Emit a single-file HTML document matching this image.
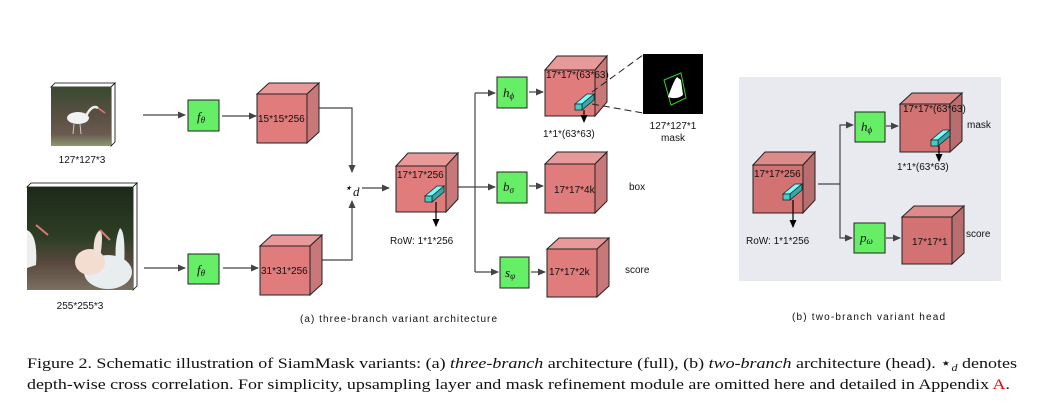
<!DOCTYPE html>
<html><head><meta charset="utf-8"><style>
html,body{margin:0;padding:0;background:#fff;}
svg{display:block;}
.s{font-family:"Liberation Sans",sans-serif;font-size:10px;fill:#111;}
.m{font-family:"Liberation Serif",serif;font-style:italic;font-size:13px;fill:#111;}
.c{font-family:"Liberation Serif",serif;font-size:15px;fill:#111;}
</style></head><body>
<svg width="1045" height="406" viewBox="0 0 1045 406" xmlns="http://www.w3.org/2000/svg">
<defs>
<marker id="a" markerWidth="8" markerHeight="8" refX="7" refY="4" orient="auto" markerUnits="userSpaceOnUse"><path d="M0,0.5 L8,4 L0,7.5 z" fill="#444"/></marker>
<marker id="ak" markerWidth="8" markerHeight="8" refX="7" refY="4" orient="auto" markerUnits="userSpaceOnUse"><path d="M0,0.5 L8,4 L0,7.5 z" fill="#000"/></marker>
<linearGradient id="p1" x1="0" y1="0" x2="0" y2="1"><stop offset="0" stop-color="#3a4a30"/><stop offset="0.5" stop-color="#5a5044"/><stop offset="0.8" stop-color="#6a5a50"/><stop offset="1" stop-color="#8a9a70"/></linearGradient>
<linearGradient id="p2" x1="0" y1="0" x2="0" y2="1"><stop offset="0" stop-color="#1c2a18"/><stop offset="0.5" stop-color="#2e3e26"/><stop offset="0.75" stop-color="#5a4a40"/><stop offset="1" stop-color="#7a7060"/></linearGradient>
</defs>
<rect x="739" y="77" width="262" height="204" fill="#e9eaef"/>

<!-- images -->
<polygon points="51,87 55,83 115,83 111,87" fill="#fff" stroke="#000" stroke-width="0.8"/>
<polygon points="111,87 115,83 115,142 111,146" fill="#fff" stroke="#000" stroke-width="0.8"/>
<rect x="51" y="87" width="60" height="59" fill="url(#p1)"/>
<ellipse cx="78" cy="118" rx="11" ry="6" fill="#f2f2f2"/><path d="M86,116 Q92,104 98,108" stroke="#eee" stroke-width="2.5" fill="none"/><path d="M98,108 L105,113" stroke="#d77" stroke-width="1.5"/><line x1="74" y1="124" x2="73" y2="134" stroke="#ccc"/><line x1="80" y1="124" x2="81" y2="134" stroke="#ccc"/>
<polygon points="27,187 31,183 137,183 133,187" fill="#fff" stroke="#000" stroke-width="0.8"/>
<polygon points="133,187 137,183 137,286 133,290" fill="#fff" stroke="#000" stroke-width="0.8"/>
<rect x="27" y="187" width="106" height="103" fill="url(#p2)"/>
<ellipse cx="108" cy="272" rx="24" ry="17" fill="#e8eef0"/><path d="M116,266 Q114,240 120,228 Q126,232 124,268 Z" fill="#e8eef0"/>
<ellipse cx="90" cy="262" rx="15" ry="13" fill="#f3dcd0"/><path d="M94,258 Q92,236 100,230 Q104,234 100,258 Z" fill="#f0e0d8"/><path d="M100,230 L110,240" stroke="#d77" stroke-width="2"/>
<path d="M27,230 Q38,235 36,265 L27,268 Z" fill="#eee"/><path d="M36,225 L48,235" stroke="#d77" stroke-width="2"/>
<text class="s" x="82" y="163" text-anchor="middle">127*127*3</text>
<text class="s" x="80" y="309" text-anchor="middle">255*255*3</text>

<g stroke="#444" stroke-width="1.2" fill="none" marker-end="url(#a)">
<line x1="143" y1="115" x2="185" y2="115"/>
<line x1="222" y1="116" x2="256" y2="116"/>
<line x1="144" y1="268" x2="185" y2="268"/>
<line x1="223" y1="268" x2="258" y2="268"/>
<polyline points="319,108 352,108 352,172"/>
<polyline points="322,260 352,260 352,201"/>
<line x1="362" y1="188" x2="389" y2="188"/>
<line x1="475" y1="93" x2="495" y2="93"/>
<line x1="475" y1="187" x2="495" y2="187"/>
<line x1="475" y1="272" x2="498" y2="272"/>
<line x1="529" y1="92" x2="543" y2="92"/>
<line x1="529" y1="186" x2="543" y2="186"/>
<line x1="531" y1="272" x2="545" y2="272"/>
<polyline points="840,184 840,125 853,125" /><polyline points="840,184 840,238 852,238"/>
<line x1="886" y1="126" x2="898" y2="126"/>
<line x1="886" y1="238" x2="900" y2="238"/>
</g>
<g stroke="#444" stroke-width="1.2" fill="none">
<line x1="457" y1="187" x2="475" y2="187"/><line x1="475" y1="93" x2="475" y2="272"/>
<line x1="818" y1="184" x2="840" y2="184"/>
</g>
<text class="m" x="344" y="192" font-size="14">⋆</text><text class="m" x="353" y="196" font-size="12">d</text>

<g fill="#66ee66" stroke="#222" stroke-width="1">
<rect x="188" y="100" width="31" height="31"/><rect x="188" y="254" width="31" height="30"/>
<rect x="497" y="77" width="30" height="31"/><rect x="497" y="172" width="30" height="31"/><rect x="500" y="257" width="29" height="31"/>
<rect x="855" y="112" width="30" height="30"/><rect x="854" y="223" width="31" height="30"/>
</g>
<text class="m" x="197" y="121" font-size="15">f<tspan font-size="9" dy="2">θ</tspan></text>
<text class="m" x="197" y="274" font-size="15">f<tspan font-size="9" dy="2">θ</tspan></text>
<text class="m" x="503" y="97" font-size="15">h<tspan font-size="9" dy="2">ϕ</tspan></text>
<text class="m" x="503" y="191" font-size="15">b<tspan font-size="9" dy="2">σ</tspan></text>
<text class="m" x="505" y="277" font-size="15">s<tspan font-size="9" dy="2">φ</tspan></text>
<text class="m" x="861" y="131" font-size="15">h<tspan font-size="9" dy="2">ϕ</tspan></text>
<text class="m" x="860" y="242" font-size="15">p<tspan font-size="9" dy="2">ω</tspan></text>

<g stroke="#222" stroke-width="1">
<polygon points="257,94 269,83 319,83 307,94" fill="#e89a9a"/><polygon points="307,94 319,83 319,132 307,143" fill="#c87878"/><rect x="257" y="94" width="50" height="49" fill="#e07c7c"/>
<polygon points="260,246 272,235 322,235 310,246" fill="#e89a9a"/><polygon points="310,246 322,235 322,284 310,295" fill="#c87878"/><rect x="260" y="246" width="50" height="49" fill="#e07c7c"/>
<polygon points="396,166 408,153 458,153 446,166" fill="#e89a9a"/><polygon points="446,166 458,153 458,199 446,212" fill="#c87878"/><rect x="396" y="166" width="50" height="46" fill="#e07c7c"/>
<polygon points="545,70 557,56 607,56 595,70" fill="#e89a9a"/><polygon points="595,70 607,56 607,102 595,116" fill="#c87878"/><rect x="545" y="70" width="50" height="46" fill="#e07c7c"/>
<polygon points="545,164 557,152 607,152 595,164" fill="#e89a9a"/><polygon points="595,164 607,152 607,201 595,213" fill="#c87878"/><rect x="545" y="164" width="50" height="49" fill="#e07c7c"/>
<polygon points="547,249 559,238 609,238 597,249" fill="#e89a9a"/><polygon points="597,249 609,238 609,286 597,297" fill="#c87878"/><rect x="547" y="249" width="50" height="48" fill="#e07c7c"/>
<polygon points="753,165 765,152 815,152 803,165" fill="#dc8a8a"/><polygon points="803,165 815,152 815,200 803,213" fill="#b86e6e"/><rect x="753" y="165" width="50" height="48" fill="#d27272"/>
<polygon points="900,104 912,93 962,93 950,104" fill="#dc8a8a"/><polygon points="950,104 962,93 962,141 950,152" fill="#b86e6e"/><rect x="900" y="104" width="50" height="48" fill="#d27272"/>
<polygon points="902,217 914,206 964,206 952,217" fill="#dc8a8a"/><polygon points="952,217 964,206 964,253 952,264" fill="#b86e6e"/><rect x="902" y="217" width="50" height="47" fill="#d27272"/>
</g>
<g stroke="#222" stroke-width="0.8">
<g transform="translate(425,196)"><polygon points="0,0 12,-10 19,-10 7,0" fill="#7ff"/><polygon points="7,0 19,-10 19,-4 7,6" fill="#3aa"/><rect x="0" y="0" width="7" height="6" fill="#4cc"/></g>
<g transform="translate(575,104)"><polygon points="0,0 12,-10 19,-10 7,0" fill="#7ff"/><polygon points="7,0 19,-10 19,-4 7,6" fill="#3aa"/><rect x="0" y="0" width="7" height="6" fill="#4cc"/></g>
<g transform="translate(783,194)"><polygon points="0,0 12,-10 19,-10 7,0" fill="#7ff"/><polygon points="7,0 19,-10 19,-4 7,6" fill="#3aa"/><rect x="0" y="0" width="7" height="6" fill="#4cc"/></g>
<g transform="translate(931,140)"><polygon points="0,0 12,-10 19,-10 7,0" fill="#7ff"/><polygon points="7,0 19,-10 19,-4 7,6" fill="#3aa"/><rect x="0" y="0" width="7" height="6" fill="#4cc"/></g>
</g>
<g stroke="#000" stroke-width="1.2" marker-end="url(#ak)">
<line x1="436" y1="202" x2="436" y2="226"/><line x1="584" y1="110" x2="584" y2="122"/>
<line x1="793" y1="200" x2="793" y2="227"/><line x1="939" y1="146" x2="939" y2="161"/>
</g>
<g stroke="#222" stroke-width="1" stroke-dasharray="7,4"><line x1="592" y1="92" x2="643" y2="55"/><line x1="592" y1="104" x2="643" y2="113"/></g>
<rect x="643" y="54" width="60" height="60" fill="#000"/>
<polygon points="664,80 681,73 686,98 671,105" fill="none" stroke="#3c3" stroke-width="1"/>
<path d="M668,97 Q674,80 677,77 L681,80 L683,95 Q677,100 668,97 Z" fill="#fff"/>

<text class="s" x="258" y="122" font-size="10.5">15*15*256</text>
<text class="s" x="261" y="274" font-size="10.5">31*31*256</text>
<text class="s" x="397" y="178" font-size="9.5">17*17*256</text>
<text class="s" x="546" y="78" font-size="8">17*17*(63*63)</text>
<text class="s" x="554" y="193">17*17*4k</text>
<text class="s" x="549" y="275">17*17*2k</text>
<text class="s" x="754" y="177" font-size="9.5">17*17*256</text>
<text class="s" x="903" y="112" font-size="8">17*17*(63*63)</text>
<text class="s" x="912" y="245">17*17*1</text>
<text class="s" x="390" y="244" font-size="9.5">RoW: 1*1*256</text>
<text class="s" x="543" y="137" font-size="9.5">1*1*(63*63)</text>
<text class="s" x="746" y="244" font-size="9.5">RoW: 1*1*256</text>
<text class="s" x="897" y="170" font-size="9.5">1*1*(63*63)</text>
<text class="s" x="673" y="129" text-anchor="middle">127*127*1</text>
<text class="s" x="673" y="141" text-anchor="middle">mask</text>
<text class="s" x="629" y="190">box</text>
<text class="s" x="625" y="273">score</text>
<text class="s" x="967" y="128">mask</text>
<text class="s" x="966" y="237">score</text>
<text class="s" x="300" y="322" textLength="197" lengthAdjust="spacing">(a) three-branch  variant architecture</text>
<text class="s" x="792" y="320" textLength="153" lengthAdjust="spacing">(b) two-branch  variant head</text>

<text class="c" x="27" y="368" textLength="990" lengthAdjust="spacingAndGlyphs">Figure 2. Schematic illustration of SiamMask variants: (a) <tspan font-style="italic">three-branch</tspan> architecture (full), (b) <tspan font-style="italic">two-branch</tspan> architecture (head). ⋆<tspan font-style="italic" font-size="10" dy="3">d</tspan><tspan dy="-3"> denotes</tspan></text>
<text class="c" x="27" y="389" textLength="983" lengthAdjust="spacingAndGlyphs">depth-wise cross correlation. For simplicity, upsampling layer and mask refinement module are omitted here and detailed in Appendix <tspan fill="#e00">A</tspan>.</text>
</svg>
</body></html>
